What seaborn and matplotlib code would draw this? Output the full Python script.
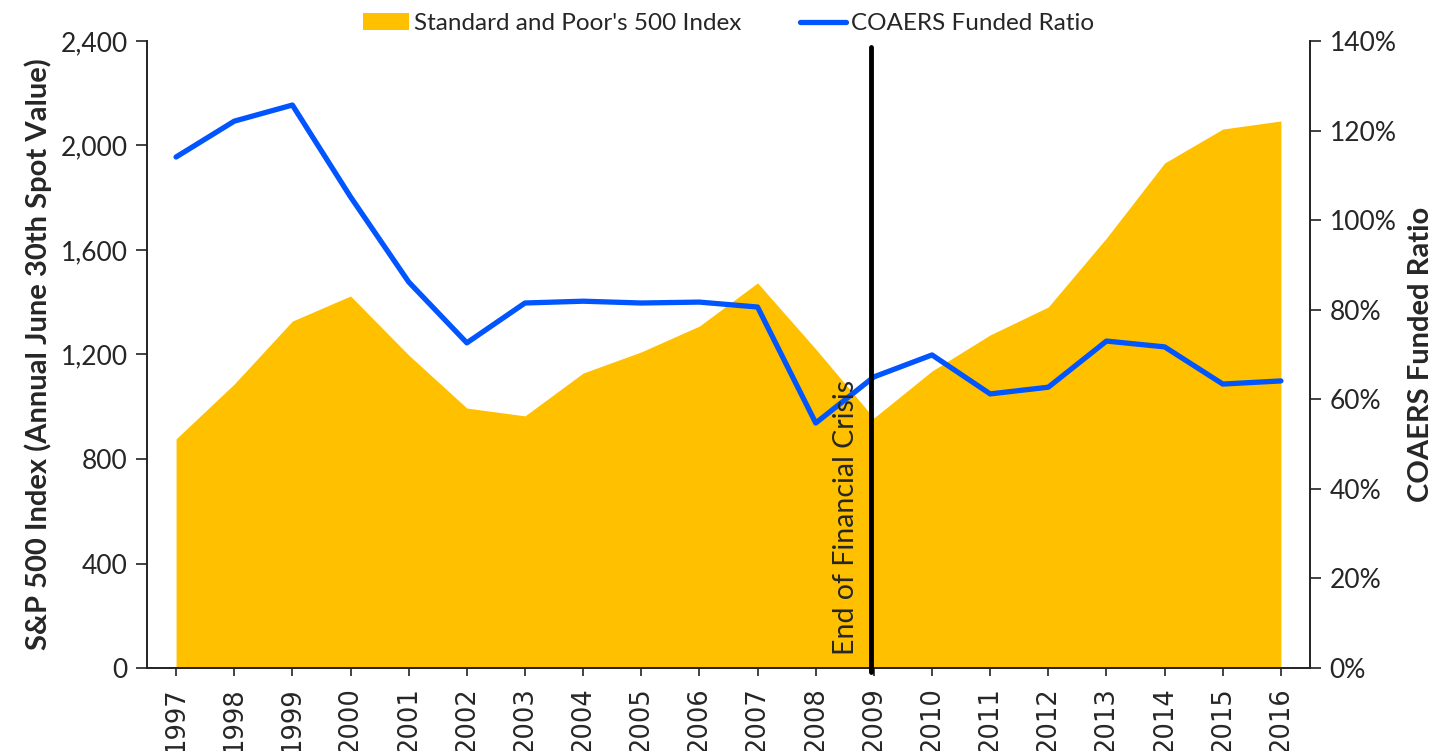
import numpy as np
import matplotlib
matplotlib.use("Agg")
import matplotlib.pyplot as plt
import seaborn as sns
import pandas as pd

years = list(range(1997, 2017))
sp500 = [877, 1087, 1328, 1424, 1198, 995, 965, 1129, 1210, 1309,
         1474, 1221, 957, 1137, 1275, 1382, 1646, 1933, 2063, 2094]
funded = [114.1, 122.1, 125.7, 105.2, 86.2, 72.6, 81.5, 81.9, 81.5, 81.7,
          80.6, 54.7, 65.0, 69.9, 61.2, 62.7, 73.0, 71.7, 63.4, 64.1]
crisis_year = 2009

df = pd.DataFrame({'year': years, 'sp500': sp500, 'funded': funded})
df['pos'] = np.arange(len(df))

sns.set_theme(style='white')
plt.rcParams['font.family'] = ['Lato', 'DejaVu Sans']

gold = '#FFC000'
blue = '#0055FF'

fig = plt.figure(figsize=(14.46, 7.51), dpi=100)
ax = fig.add_axes([147/1446, 1-668/751, (1310-147)/1446, (668-41)/751])

ax.fill_between(df['pos'], df['sp500'], color=gold, linewidth=0,
                label="Standard and Poor's 500 Index")
ax.set_xlim(-0.5, len(df) - 0.5)
ax.set_ylim(0, 2400)
ax.set_yticks(np.arange(0, 2401, 400))
ax.set_yticklabels([f'{v:,}' for v in range(0, 2401, 400)], fontsize=19)
ax.set_xticks(df['pos'])
ax.set_xticklabels(df['year'], rotation=90, fontsize=18.5, family='DejaVu Sans',
                   va='top')
ax.set_ylabel("S&P 500 Index (Annual June 30th Spot Value)", fontsize=21,
              fontweight='bold', labelpad=6)
ax.set_xlabel('')

ax2 = ax.twinx()
sns.lineplot(data=df, x='pos', y='funded', ax=ax2, color=blue, linewidth=3.8,
             label='COAERS Funded Ratio', legend=False)
ax2.set_ylim(0, 140)
ax2.set_yticks(np.arange(0, 141, 20))
ax2.set_yticklabels([f'{v}%' for v in range(0, 141, 20)], fontsize=19)
ax2.set_ylabel('COAERS Funded Ratio', fontsize=21, fontweight='bold', labelpad=8)
ax2.set_xlabel('')

cx = years.index(crisis_year)
ax2.axvline(cx - 0.05, ymin=-0.006, ymax=0.99, color='black', linewidth=3.5,
            clip_on=False, zorder=5)
ax2.text(cx - 0.26, 0.02, 'End of Financial Crisis', rotation=90,
         transform=ax2.get_xaxis_transform(), ha='right', va='bottom',
         fontsize=20.5, zorder=6)

for a in (ax, ax2):
    for s in a.spines.values():
        s.set_color('#222222')
        s.set_linewidth(1.4)
    a.spines['top'].set_visible(False)
ax.spines['right'].set_visible(False)
ax2.spines['left'].set_visible(False)
ax2.spines['bottom'].set_visible(False)

ax.tick_params(axis='y', direction='out', length=8, width=1.2, color='#222222',
               left=True, pad=6)
ax.tick_params(axis='x', direction='out', length=6, width=1.2, color='#222222',
               bottom=True, pad=8)
ax2.tick_params(axis='y', direction='out', length=8, width=1.2, color='#222222',
                right=True, pad=6)

h1, l1 = ax.get_legend_handles_labels()
h2, l2 = ax2.get_legend_handles_labels()
ax.legend(h1 + h2, l1 + l2, loc='lower center', bbox_to_anchor=(0.5, 0.995),
          ncol=2, frameon=False, fontsize=17.5, handlelength=1.9,
          handletextpad=0.2, columnspacing=2.4, borderaxespad=0)

fig.savefig('out.png', dpi=100)
